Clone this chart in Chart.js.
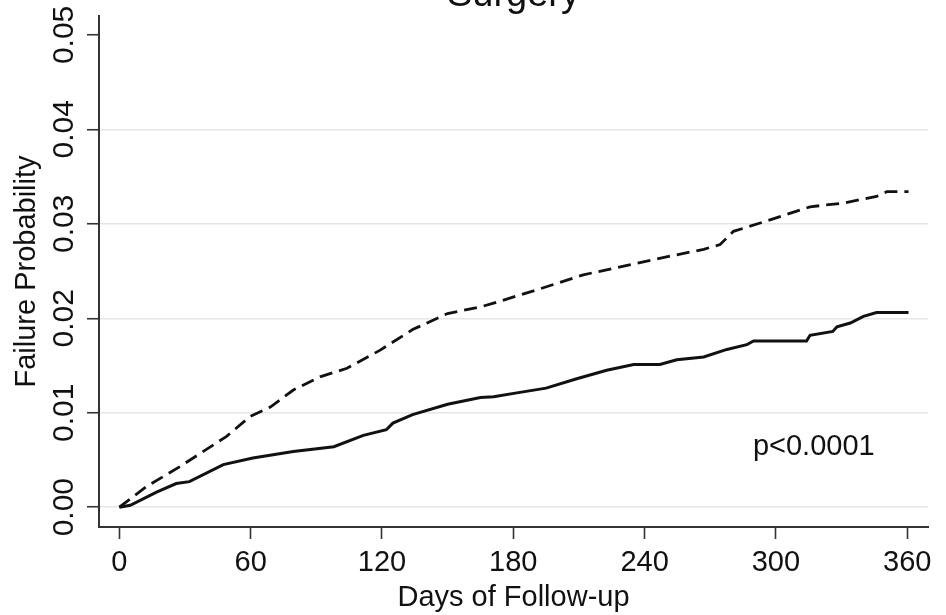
<!DOCTYPE html>
<html>
<head>
<meta charset="utf-8">
<script src="https://cdn.jsdelivr.net/npm/chart.js@4.4.1/dist/chart.umd.min.js"></script>
<style>
  html, body { margin: 0; padding: 0; background: #fff; }
</style>
</head>
<body>
<canvas id="chart" width="946" height="615"></canvas>
<script>
const xTicks = [0, 60, 120, 180, 240, 300, 360];
const yTicks = [0, 0.01, 0.02, 0.03, 0.04, 0.05];

// solid curve (lower group)
const solidDays = [0, 5, 17, 26, 32, 47.5, 61, 79.5, 98, 111.5, 122, 125, 134, 150, 165, 171, 181.6, 195, 209, 222.7, 235, 247, 254.7, 267, 277.6, 286.7, 289.8, 314, 315.6, 326, 327.9, 334, 340, 346, 360.6];
const solidFail = [0, 0.0002, 0.0016, 0.0025, 0.0027, 0.0045, 0.0052, 0.0059, 0.0064, 0.0076, 0.0082, 0.0089, 0.0098, 0.0109, 0.0116, 0.0117, 0.0121, 0.0126, 0.0136, 0.0145, 0.0151, 0.0151, 0.0156, 0.0159, 0.0167, 0.0172, 0.0176, 0.0176, 0.0182, 0.0186, 0.0191, 0.0195, 0.0202, 0.0206, 0.0206];

// dashed curve (upper group)
const dashedDays = [0, 12.5, 27.7, 49, 59.7, 69, 79.5, 91.7, 104, 119, 134, 150, 165, 171, 192, 212, 232, 250, 267, 274.5, 280.6, 295.8, 305, 315.6, 330.9, 346, 350.7, 360.6];
const dashedFail = [0, 0.0022, 0.0043, 0.0075, 0.0096, 0.0106, 0.0124, 0.0138, 0.0147, 0.0166, 0.0188, 0.0205, 0.0212, 0.0216, 0.0231, 0.0246, 0.0256, 0.0265, 0.0273, 0.0278, 0.0292, 0.0303, 0.0310, 0.0318, 0.0322, 0.0329, 0.0334, 0.0334];

const titleText = 'Surgery';
const pValueText = 'p<0.0001';

const FONT = "'Liberation Sans', Arial, Helvetica, sans-serif";
const INK = '#111';

function toPoints(xs, ys) {
    return xs.map((x, i) => ({ x: x, y: ys[i] }));
}

// title (cut off at the top) and the p-value note
const textPlugin = {
    id: 'texts',
    afterDraw(chart) {
        const ctx = chart.ctx;
        const xs = chart.scales.x;
        const ys = chart.scales.y;
        ctx.save();
        ctx.fillStyle = INK;
        ctx.font = '38px ' + FONT;
        ctx.textAlign = 'center';
        ctx.textBaseline = 'alphabetic';
        ctx.fillText(titleText, (chart.chartArea.left + chart.chartArea.right) / 2, 6);
        ctx.font = '29px ' + FONT;
        ctx.textAlign = 'left';
        ctx.textBaseline = 'middle';
        ctx.fillText(pValueText, xs.getPixelForValue(289.5), ys.getPixelForValue(0.0064));
        ctx.restore();
    }
};

new Chart(document.getElementById('chart'), {
    type: 'line',
    data: {
        datasets: [{
            label: 'solid',
            data: toPoints(solidDays, solidFail),
            borderColor: INK,
            borderWidth: 3,
            pointRadius: 0,
            tension: 0,
            fill: false
        }, {
            label: 'dashed',
            data: toPoints(dashedDays, dashedFail),
            borderColor: INK,
            borderWidth: 2.8,
            borderDash: [13, 7],
            pointRadius: 0,
            tension: 0,
            fill: false
        }]
    },
    options: {
        responsive: false,
        animation: false,
        devicePixelRatio: 1,
        layout: { padding: { top: 16, right: 18, left: 0, bottom: 0 } },
        plugins: {
            legend: { display: false },
            tooltip: { enabled: false }
        },
        scales: {
            x: {
                type: 'linear',
                min: -9.3,
                max: 369.5,
                afterBuildTicks: s => { s.ticks = xTicks.map(v => ({ value: v })); },
                afterFit: s => { s.height = 88; },
                ticks: {
                    color: INK,
                    font: { family: FONT, size: 29 },
                    padding: 7,
                    maxRotation: 0,
                    autoSkip: false
                },
                grid: {
                    drawOnChartArea: false,
                    color: 'transparent',
                    tickColor: '#333',
                    tickLength: 12,
                    tickWidth: 1.6
                },
                border: { color: '#333', width: 2 },
                title: {
                    display: true,
                    text: 'Days of Follow-up',
                    color: INK,
                    font: { family: FONT, size: 29 },
                    padding: { top: 0, bottom: 0 }
                }
            },
            y: {
                type: 'linear',
                min: -0.0021,
                max: 0.052,
                afterBuildTicks: s => { s.ticks = yTicks.map(v => ({ value: v })); },
                afterFit: s => { s.width = 99; },
                ticks: {
                    color: INK,
                    font: { family: FONT, size: 30 },
                    minRotation: 90,
                    maxRotation: 90,
                    crossAlign: 'center',
                    padding: -7,
                    autoSkip: false,
                    callback: v => v.toFixed(2)
                },
                grid: {
                    color: c => (c.tick && c.tick.value >= 0.05) ? 'transparent' : '#e6e6e6',
                    lineWidth: 1.5,
                    tickColor: '#333',
                    tickLength: 12,
                    tickWidth: 1.6
                },
                border: { color: '#333', width: 2 },
                title: {
                    display: true,
                    text: 'Failure Probability',
                    color: INK,
                    font: { family: FONT, size: 29 },
                    padding: { top: 10, bottom: 0 }
                }
            }
        }
    },
    plugins: [textPlugin]
});
</script>
</body>
</html>
